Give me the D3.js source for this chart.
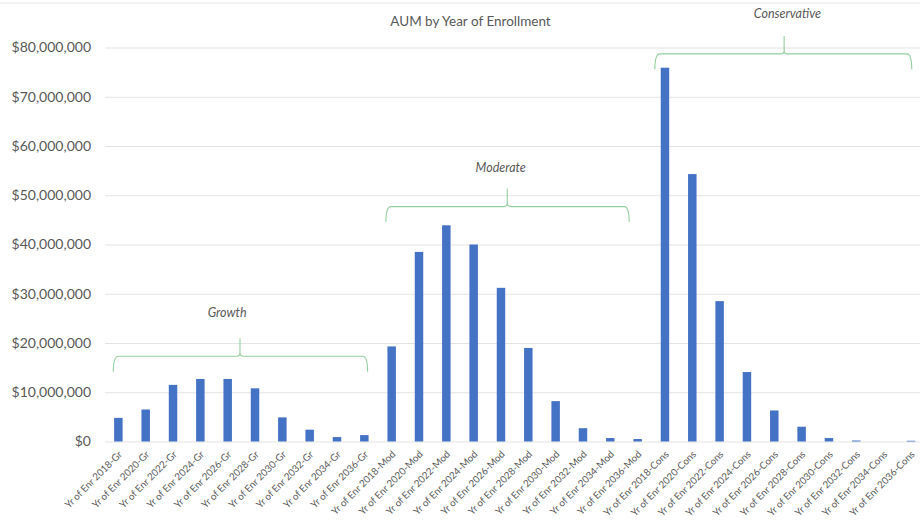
<!DOCTYPE html>
<html>
<head>
<meta charset="utf-8">
<script src="https://cdn.jsdelivr.net/npm/d3@7"></script>
<style>
  html, body { margin: 0; padding: 0; background: #fff; }
  svg { display: block; }
</style>
</head>
<body>
<svg id="chart" width="920" height="525"></svg>
<script>
// ---- Data ----
const groups = ["Gr", "Mod", "Cons"];
const years = [2018, 2020, 2022, 2024, 2026, 2028, 2030, 2032, 2034, 2036];
const categories = groups.flatMap(g => years.map(y => `Yr of Enr ${y}-${g}`));

const growthValues = [4.8e6, 6.5e6, 11.5e6, 12.7e6, 12.7e6, 10.8e6, 4.9e6, 2.4e6, 0.9e6, 1.3e6];
const moderateValues = [19.3e6, 38.5e6, 43.9e6, 40.0e6, 31.2e6, 19.0e6, 8.2e6, 2.7e6, 0.7e6, 0.5e6];
const conservativeValues = [75.9e6, 54.3e6, 28.5e6, 14.1e6, 6.3e6, 3.0e6, 0.7e6, 0.2e6, 0.0e6, 0.15e6];
const values = [...growthValues, ...moderateValues, ...conservativeValues];

const yTicks = [0, 10e6, 20e6, 30e6, 40e6, 50e6, 60e6, 70e6, 80e6];
const title = "AUM by Year of Enrollment";

// brace annotations (positions in category units and value units)
const braceLabels = ["Growth", "Moderate", "Conservative"];
const braceStart = [0.315, 10.29, 20.13];
const braceEnd = [9.62, 19.19, 29.53];
const braceTip = [4.95, 14.73, 24.86];
const braceLevel = [17.3e6, 47.7e6, 78.7e6];
const braceLabelPos = [4.48, 14.49, 24.98];
const braceLabelLevel = [25.2e6, 54.7e6, 86.0e6];

// ---- Chart ----
const W = 920, H = 525;
const svg = d3.select("#chart");
const font = "Lato, 'Liberation Sans', sans-serif";
const textColor = "#595959";

const x = d3.scaleBand().domain(categories).range([104.7, 924.6]).paddingInner(0.69).paddingOuter(0.345);
const y = d3.scaleLinear().domain([0, 80e6]).range([441.5, 47.5]);
const u = d3.scaleLinear().domain([0, categories.length]).range(x.range());

// top frame line
svg.append("line").attr("x1", 0).attr("x2", W).attr("y1", 3).attr("y2", 3)
  .attr("stroke", "#e6e6e6").attr("stroke-width", 1);

// title
svg.append("text").attr("x", 470.5).attr("y", 26).attr("text-anchor", "middle")
  .attr("font-family", font).attr("font-size", 13.5).attr("fill", textColor).text(title);

// gridlines + y axis
const yAxis = d3.axisLeft(y).tickValues(yTicks).tickSize(-(W - 105)).tickPadding(14)
  .tickFormat(d => "$" + d3.format(",")(d));
const gy = svg.append("g").attr("transform", "translate(105,0)").call(yAxis);
gy.select(".domain").remove();
gy.selectAll(".tick line").attr("stroke", "#e3e3e3").attr("stroke-width", 1);
gy.selectAll(".tick text").attr("font-family", font).attr("font-size", 14).attr("fill", textColor);

// bars
svg.append("g").selectAll("rect").data(values).join("rect")
  .attr("x", (d, i) => x(categories[i]))
  .attr("width", x.bandwidth())
  .attr("y", d => y(d))
  .attr("height", d => y(0) - y(d))
  .attr("fill", "#4472C4");

// x axis labels
const xAxis = d3.axisBottom(x).tickSize(0).tickPadding(0);
const gx = svg.append("g").attr("transform", `translate(0,${y(0)})`).call(xAxis);
gx.select(".domain").remove();
gx.selectAll(".tick text")
  .attr("font-family", font).attr("font-size", 9.8).attr("fill", textColor)
  .attr("text-anchor", "end")
  .attr("dy", "0.35em")
  .attr("transform", "translate(2,11) rotate(-45)");

// braces
function bracePath(xl, xr, xt, yh) {
  const d = 15.5, r = 18, c = 5, ct = 3.5;
  return `M${xl},${yh + d} Q${xl},${yh} ${xl + c},${yh} L${xt - ct},${yh} Q${xt},${yh} ${xt},${yh - ct} L${xt},${yh - r}` +
         ` M${xt},${yh - ct} Q${xt},${yh} ${xt + ct},${yh} L${xr - c},${yh} Q${xr},${yh} ${xr},${yh + d}`;
}
const gb = svg.append("g");
braceLabels.forEach((lab, i) => {
  gb.append("path")
    .attr("d", bracePath(u(braceStart[i]), u(braceEnd[i]), u(braceTip[i]), y(braceLevel[i])))
    .attr("fill", "none").attr("stroke", "#93cf9f").attr("stroke-width", 1.1);
  gb.append("text").attr("x", u(braceLabelPos[i])).attr("y", y(braceLabelLevel[i]))
    .attr("text-anchor", "middle").attr("font-family", font).attr("font-style", "italic")
    .attr("font-size", 12.5).attr("fill", textColor).text(lab);
});
</script>
</body>
</html>
